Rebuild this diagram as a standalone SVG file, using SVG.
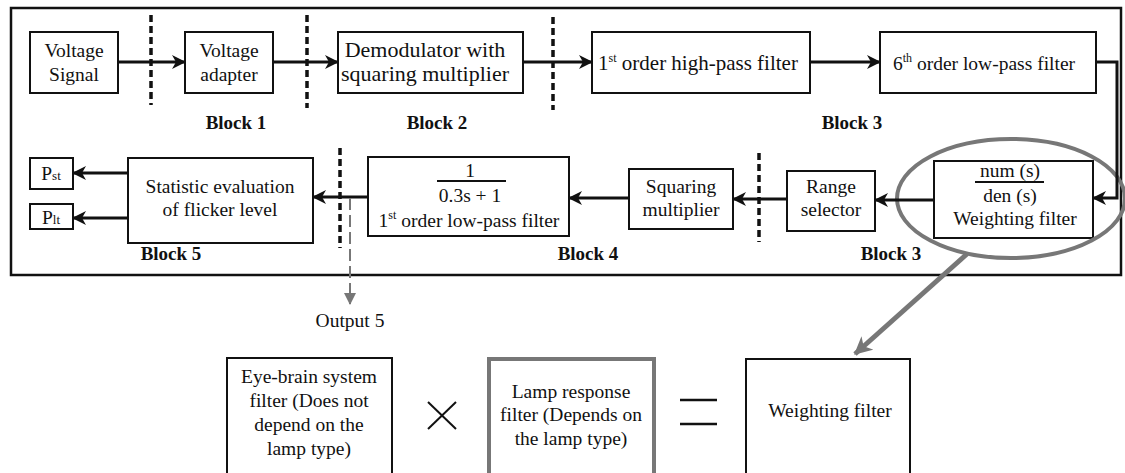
<svg xmlns="http://www.w3.org/2000/svg" width="1125" height="473" viewBox="0 0 1125 473">
<style>
text{font-family:"Liberation Serif","Times New Roman","DejaVu Serif",serif;font-size:19.5px;fill:#111;text-anchor:middle}
.b{font-weight:bold;font-size:19px}
.lg{font-size:22px}
.md{font-size:21px}
.box{fill:#fff;stroke:#111;stroke-width:2}
.gbox{fill:#fff;stroke:#777;stroke-width:4}
.con{fill:none;stroke:#111;stroke-width:3}
.dash{fill:none;stroke:#111;stroke-width:3.5;stroke-dasharray:7 4}
.sup{font-size:12px}
.sub{font-size:13px}
</style>
<defs>
<marker id="arr" viewBox="0 0 14 14" refX="13" refY="7" markerWidth="14" markerHeight="14" markerUnits="userSpaceOnUse" orient="auto">
<path d="M0,0 L14,7 L0,14 L4,7 z" fill="#111"/>
</marker>
<marker id="garr" viewBox="0 0 14 14" refX="13" refY="7" markerWidth="18" markerHeight="18" markerUnits="userSpaceOnUse" orient="auto">
<path d="M0,0 L14,7 L0,14 L4,7 z" fill="#777"/>
</marker>
<marker id="oarr" viewBox="0 0 12 12" refX="11" refY="6" markerWidth="12" markerHeight="12" markerUnits="userSpaceOnUse" orient="auto">
<path d="M0,0 L12,6 L0,12 z" fill="#777"/>
</marker>
</defs>
<rect width="1125" height="473" fill="#fff"/>
<rect x="11" y="8" width="1110" height="267" fill="none" stroke="#111" stroke-width="2.5"/>

<g id="dividers">
<line class="dash" x1="151" y1="15" x2="151" y2="105"/>
<line class="dash" x1="307" y1="15" x2="307" y2="108"/>
<line class="dash" x1="553" y1="17" x2="553" y2="110"/>
<line class="dash" x1="340" y1="148" x2="340" y2="248"/>
<line class="dash" x1="759" y1="153" x2="759" y2="242"/>
</g>

<g id="block-labels">
<text class="b" x="236" y="129">Block 1</text>
<text class="b" x="437" y="129">Block 2</text>
<text class="b" x="852" y="129">Block 3</text>
<text class="b" x="171" y="260">Block 5</text>
<text class="b" x="588" y="260">Block 4</text>
<text class="b" x="891" y="260">Block 3</text>
</g>

<g id="n-voltage-signal">
<rect class="box" x="30" y="32" width="88" height="61"/>
<text x="74" y="57">Voltage</text><text x="74" y="81">Signal</text>
</g>
<g id="n-voltage-adapter">
<rect class="box" x="185" y="32" width="88" height="61"/>
<text x="229" y="57">Voltage</text><text x="229" y="81">adapter</text>
</g>
<g id="n-demodulator">
<rect class="box" x="338" y="32" width="185" height="61"/>
<text class="lg" x="425" y="57">Demodulator with</text><text class="lg" x="425" y="81">squaring multiplier</text>
</g>
<g id="n-highpass">
<rect class="box" x="592" y="32" width="218" height="61"/>
<text class="md" x="698" y="70">1<tspan class="sup" dy="-8">st</tspan><tspan dy="8"> order high-pass filter</tspan></text>
</g>
<g id="n-lowpass6">
<rect class="box" x="880" y="32" width="216" height="61"/>
<text x="984" y="70">6<tspan class="sup" dy="-8">th</tspan><tspan dy="8"> order low-pass filter</tspan></text>
</g>
<g id="n-weighting">
<rect class="box" x="934" y="161" width="159" height="77"/>
<text x="1010" y="177">num (s)</text>
<line x1="975" y1="182" x2="1044" y2="182" stroke="#111" stroke-width="2"/>
<text x="1010" y="202">den (s)</text>
<text x="1015" y="225">Weighting filter</text>
</g>
<g id="n-range">
<rect class="box" x="787" y="171" width="88" height="60"/>
<text x="831" y="193">Range</text><text x="831" y="216">selector</text>
</g>
<g id="n-squaring">
<rect class="box" x="629" y="169" width="104" height="60"/>
<text x="681" y="193">Squaring</text><text x="681" y="216">multiplier</text>
</g>
<g id="n-lowpass1">
<rect class="box" x="368" y="157" width="201" height="79"/>
<text x="470" y="177">1</text>
<line x1="437" y1="181" x2="506" y2="181" stroke="#111" stroke-width="2"/>
<text x="470" y="202">0.3s + 1</text>
<text x="469" y="227">1<tspan class="sup" dy="-8">st</tspan><tspan dy="8"> order low-pass filter</tspan></text>
</g>
<g id="n-statistic">
<rect class="box" x="128" y="158" width="185" height="85"/>
<text x="220" y="193">Statistic evaluation</text><text x="220" y="216">of flicker level</text>
</g>
<g id="n-pst">
<rect class="box" x="30" y="158" width="43" height="31"/>
<text x="51" y="180">P<tspan class="sub">st</tspan></text>
</g>
<g id="n-plt">
<rect class="box" x="30" y="204" width="43" height="25"/>
<text x="51" y="224">P<tspan class="sub">lt</tspan></text>
</g>

<g id="n-highlight">
<ellipse cx="1011" cy="198.5" rx="114" ry="59.5" fill="none" stroke="#777" stroke-width="4"/>
</g>

<g id="n-eye-brain">
<rect class="box" x="227" y="358" width="165" height="116"/>
<text x="309" y="383">Eye-brain system</text>
<text x="309" y="407">filter (Does not</text>
<text x="309" y="431">depend on the</text>
<text x="309" y="455">lamp type)</text>
</g>
<g id="n-times">
<line x1="428" y1="402" x2="456" y2="429" stroke="#111" stroke-width="2"/>
<line x1="456" y1="402" x2="428" y2="429" stroke="#111" stroke-width="2"/>
</g>
<g id="n-lamp">
<rect class="gbox" x="489" y="359" width="165" height="116"/>
<text x="571" y="398">Lamp response</text>
<text x="571" y="421">filter (Depends on</text>
<text x="571" y="445">the lamp type)</text>
</g>
<g id="n-equals">
<line x1="680" y1="400" x2="717" y2="400" stroke="#111" stroke-width="2.5"/>
<line x1="680" y1="424" x2="717" y2="424" stroke="#111" stroke-width="2.5"/>
</g>
<g id="n-weighting-2">
<rect class="box" x="746" y="359" width="164" height="116"/>
<text x="830" y="417">Weighting filter</text>
</g>
<g id="n-output5">
<text x="350" y="327">Output 5</text>
</g>

<g id="connectors">
<line class="con" x1="118" y1="62" x2="185" y2="62" marker-end="url(#arr)"/>
<line class="con" x1="273" y1="62" x2="338" y2="62" marker-end="url(#arr)"/>
<line class="con" x1="523" y1="62" x2="592" y2="62" marker-end="url(#arr)"/>
<line class="con" x1="810" y1="62" x2="880" y2="62" marker-end="url(#arr)"/>
<path class="con" d="M1096,62 H1117 V198 H1093" stroke-width="2.5" marker-end="url(#arr)"/>
<line class="con" x1="934" y1="200" x2="875" y2="200" marker-end="url(#arr)"/>
<line class="con" x1="787" y1="199" x2="733" y2="199" marker-end="url(#arr)"/>
<line class="con" x1="629" y1="198" x2="569" y2="198" marker-end="url(#arr)"/>
<line class="con" x1="368" y1="197" x2="313" y2="197" marker-end="url(#arr)"/>
<line class="con" x1="128" y1="173" x2="73" y2="173" marker-end="url(#arr)"/>
<line class="con" x1="128" y1="218" x2="73" y2="218" marker-end="url(#arr)"/>
<line x1="350" y1="198" x2="350" y2="304" fill="none" stroke="#777" stroke-width="2" stroke-dasharray="12 5" marker-end="url(#oarr)"/>
<line x1="967" y1="254" x2="855" y2="354" stroke="#777" stroke-width="5" marker-end="url(#garr)"/>
</g>
</svg>
